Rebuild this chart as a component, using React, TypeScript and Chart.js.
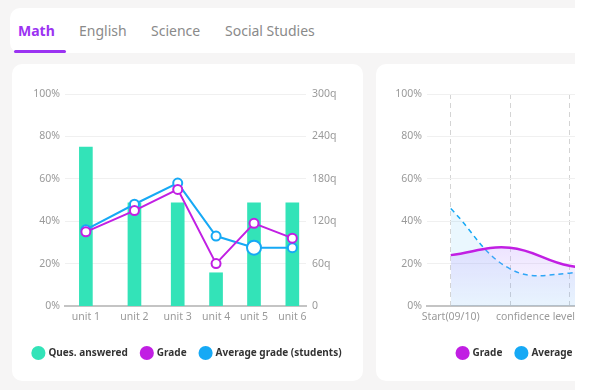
import React, { useEffect, useRef } from 'react';
import { Chart, registerables } from 'chart.js';

Chart.register(...registerables);

const FONT = '"Noto Sans", "Open Sans", sans-serif';
Chart.defaults.font.family = FONT;

// ---- data ----
const tabs = ['Math', 'English', 'Science', 'Social Studies'];
const units = ['unit 1', 'unit 2', 'unit 3', 'unit 4', 'unit 5', 'unit 6'];
const unitX = [1, 2.28, 3.42, 4.43, 5.43, 6.44];
const quesAnswered = [225, 146, 146, 47, 146, 146];
const grade = [35, 45, 55, 20, 39, 32];
const avgGrade = [36, 48, 58, 33, 27.5, 27.5];
const percentTicks = [0, 20, 40, 60, 80, 100];
const questionTicks = [0, 60, 120, 180, 240, 300];

const trendLabels = [
  'Start(09/10)',
  'confidence level (09/17)',
  'confidence level check (09/24)',
  'confidence level (10/01)',
  'confidence level (10/08)',
];
const trendGrade = [24, 27.5, 19, 17, 22];
const trendAvg = [46, 17.5, 15.5, 22, 25];

// ---- styles ----
const GREEN = '#33e3b8';
const PURPLE = '#c11fe3';
const BLUE = '#16a9f5';
const TAB_PURPLE = '#9b33f2';
const TICK = '#9a9a9a';
const GRID = '#f0f0f0';
const AXIS = '#c4c4c4';

function legendFor(colors: string[]) {
  return {
    position: 'bottom' as const,
    labels: {
      usePointStyle: true,
      pointStyle: 'circle',
      boxWidth: 10,
      boxHeight: 10,
      padding: 14,
      color: '#333',
      font: { size: 10, weight: 'bold' as const, family: FONT },
      sort: (a: any, b: any) => a.datasetIndex - b.datasetIndex,
      generateLabels: (chart: any) => {
        const items = Chart.defaults.plugins.legend.labels.generateLabels(chart);
        return items.map((it: any) => ({
          ...it,
          fillStyle: colors[it.datasetIndex],
          strokeStyle: colors[it.datasetIndex],
          lineWidth: 0,
          pointStyle: 'circle',
        }));
      },
    },
  };
}

function ChartCanvas({ make, width, height }: { make: () => any; width: number; height: number }) {
  const ref = useRef<HTMLCanvasElement>(null);
  useEffect(() => {
    const chart = new Chart(ref.current as HTMLCanvasElement, make());
    return () => chart.destroy();
  }, []);
  return <canvas ref={ref} width={width} height={height} style={{ display: 'block', width, height }} />;
}

function fitX(s: any) {
  s.height = 28;
  s.paddingLeft = 0;
  s.paddingRight = 0;
}

function unitConfig() {
  return {
    type: 'bar',
    data: {
      datasets: [
        {
          type: 'bar',
          label: 'Ques. answered',
          data: quesAnswered.map((v, i) => ({ x: unitX[i], y: v })),
          backgroundColor: GREEN,
          barThickness: 13,
          yAxisID: 'y1',
          order: 3,
        },
        {
          type: 'line',
          label: 'Grade',
          data: grade.map((v, i) => ({ x: unitX[i], y: v })),
          borderColor: PURPLE,
          backgroundColor: PURPLE,
          borderWidth: 2,
          pointBackgroundColor: '#fff',
          pointBorderColor: PURPLE,
          pointBorderWidth: 2,
          pointRadius: 4.5,
          tension: 0,
          yAxisID: 'y',
          order: 1,
        },
        {
          type: 'line',
          label: 'Average grade (students)',
          data: avgGrade.map((v, i) => ({ x: unitX[i], y: v })),
          borderColor: BLUE,
          backgroundColor: BLUE,
          borderWidth: 2,
          pointBackgroundColor: '#fff',
          pointBorderColor: BLUE,
          pointBorderWidth: 2,
          pointRadius: [4.5, 4.5, 4.5, 4.5, 7, 4.5],
          tension: 0,
          yAxisID: 'y',
          order: 2,
        },
      ],
    },
    options: {
      responsive: false,
      animation: false,
      layout: { padding: { top: 30, left: 0, right: 0, bottom: 13 } },
      plugins: {
        legend: legendFor([GREEN, PURPLE, BLUE]),
        tooltip: { enabled: false },
      },
      scales: {
        x: {
          type: 'linear',
          min: 0.45,
          max: 6.8,
          offset: false,
          afterBuildTicks: (s: any) => {
            s.ticks = unitX.map((v) => ({ value: v }));
          },
          afterFit: fitX,
          ticks: {
            autoSkip: false,
            maxRotation: 0,
            padding: 5,
            color: TICK,
            font: { size: 10.5 },
            callback: (v: number) => units[unitX.indexOf(v)],
          },
          grid: { display: false, drawTicks: false, offset: false },
          border: { display: true, color: AXIS, width: 2 },
        },
        y: {
          position: 'left',
          min: 0,
          max: 100,
          afterBuildTicks: (s: any) => {
            s.ticks = percentTicks.map((v) => ({ value: v }));
          },
          afterFit: (s: any) => {
            s.width = 53;
          },
          ticks: { padding: 5, color: TICK, font: { size: 10.5 }, callback: (v: number) => v + '%' },
          grid: { color: GRID, drawTicks: false },
          border: { display: false },
        },
        y1: {
          position: 'right',
          min: 0,
          max: 300,
          afterBuildTicks: (s: any) => {
            s.ticks = questionTicks.map((v) => ({ value: v }));
          },
          afterFit: (s: any) => {
            s.width = 57;
          },
          ticks: {
            padding: 6,
            color: TICK,
            font: { size: 10.5 },
            callback: (v: number) => (v === 0 ? '0' : v + 'q'),
          },
          grid: { display: false, drawTicks: false },
          border: { display: false },
        },
      },
    },
  };
}

function trendConfig() {
  return {
    type: 'line',
    data: {
      datasets: [
        {
          label: 'Grade',
          data: trendGrade.map((v, i) => ({ x: i, y: v })),
          borderColor: PURPLE,
          borderWidth: 2.5,
          pointRadius: 0,
          tension: 0.4,
          fill: 'origin',
          backgroundColor: (ctx: any) => {
            const chart = ctx.chart;
            const area = chart.chartArea;
            if (!area) return 'rgba(190,160,255,0.15)';
            const top = chart.scales.y.getPixelForValue(30);
            const g = chart.ctx.createLinearGradient(0, top, 0, area.bottom);
            g.addColorStop(0, 'rgba(185,150,255,0.28)');
            g.addColorStop(1, 'rgba(185,150,255,0.03)');
            return g;
          },
        },
        {
          label: 'Average grade (students)',
          data: trendAvg.map((v, i) => ({ x: i, y: v })),
          borderColor: BLUE,
          borderWidth: 1.5,
          borderDash: [5, 4],
          pointRadius: 0,
          tension: 0.4,
          fill: 'origin',
          backgroundColor: 'rgba(22,169,245,0.09)',
        },
      ],
    },
    options: {
      responsive: false,
      animation: false,
      layout: { padding: { top: 30, left: 0, right: 0, bottom: 13 } },
      plugins: {
        legend: legendFor([PURPLE, BLUE]),
        tooltip: { enabled: false },
      },
      scales: {
        x: {
          type: 'linear',
          min: -0.4,
          max: 4.86,
          afterBuildTicks: (s: any) => {
            s.ticks = trendLabels.map((_, i) => ({ value: i }));
          },
          afterFit: fitX,
          ticks: {
            autoSkip: false,
            maxRotation: 0,
            padding: 5,
            color: TICK,
            font: { size: 10.5 },
            callback: (v: number) => (v % 2 === 0 ? trendLabels[v] : ''),
          },
          grid: { color: '#d4d4d4', drawTicks: false },
          border: { display: true, color: AXIS, width: 2, dash: [5, 4] },
        },
        y: {
          min: 0,
          max: 100,
          afterBuildTicks: (s: any) => {
            s.ticks = percentTicks.map((v) => ({ value: v }));
          },
          afterFit: (s: any) => {
            s.width = 51;
          },
          ticks: { padding: 5, color: TICK, font: { size: 10.5 }, callback: (v: number) => v + '%' },
          grid: { color: GRID, drawTicks: false },
          border: { display: false },
        },
      },
    },
  };
}

const tabLefts = [18, 79, 151, 225];

export default function App() {
  return (
    <div style={{ position: 'fixed', left: 0, top: 0, width: 600, height: 390, background: '#fff', fontFamily: FONT }}>
      <div
        style={{
          position: 'absolute',
          left: 0,
          top: 0,
          width: 575,
          height: 390,
          background: '#f6f5f5',
          overflow: 'hidden',
        }}
      >
        <div
          style={{
            position: 'absolute',
            left: 10,
            top: 8,
            width: 700,
            height: 45,
            background: '#fff',
            borderRadius: 10,
          }}
        >
          {tabs.map((t, i) => (
            <span
              key={t}
              style={{
                position: 'absolute',
                left: tabLefts[i] - 10,
                top: 13,
                lineHeight: '20px',
                fontSize: 14,
                fontWeight: i === 0 ? 700 : 400,
                color: i === 0 ? TAB_PURPLE : '#8a8a8a',
                whiteSpace: 'nowrap',
              }}
            >
              {t}
            </span>
          ))}
          <div
            style={{
              position: 'absolute',
              left: 4,
              top: 42,
              width: 52,
              height: 3,
              borderRadius: 2,
              background: TAB_PURPLE,
            }}
          />
        </div>
        <div
          style={{
            position: 'absolute',
            left: 12,
            top: 64,
            width: 351,
            height: 317,
            background: '#fff',
            borderRadius: 10,
            overflow: 'hidden',
          }}
        >
          <ChartCanvas make={unitConfig} width={351} height={317} />
        </div>
        <div
          style={{
            position: 'absolute',
            left: 376,
            top: 64,
            width: 363,
            height: 317,
            background: '#fff',
            borderRadius: 10,
            overflow: 'hidden',
          }}
        >
          <ChartCanvas make={trendConfig} width={363} height={317} />
        </div>
      </div>
    </div>
  );
}
